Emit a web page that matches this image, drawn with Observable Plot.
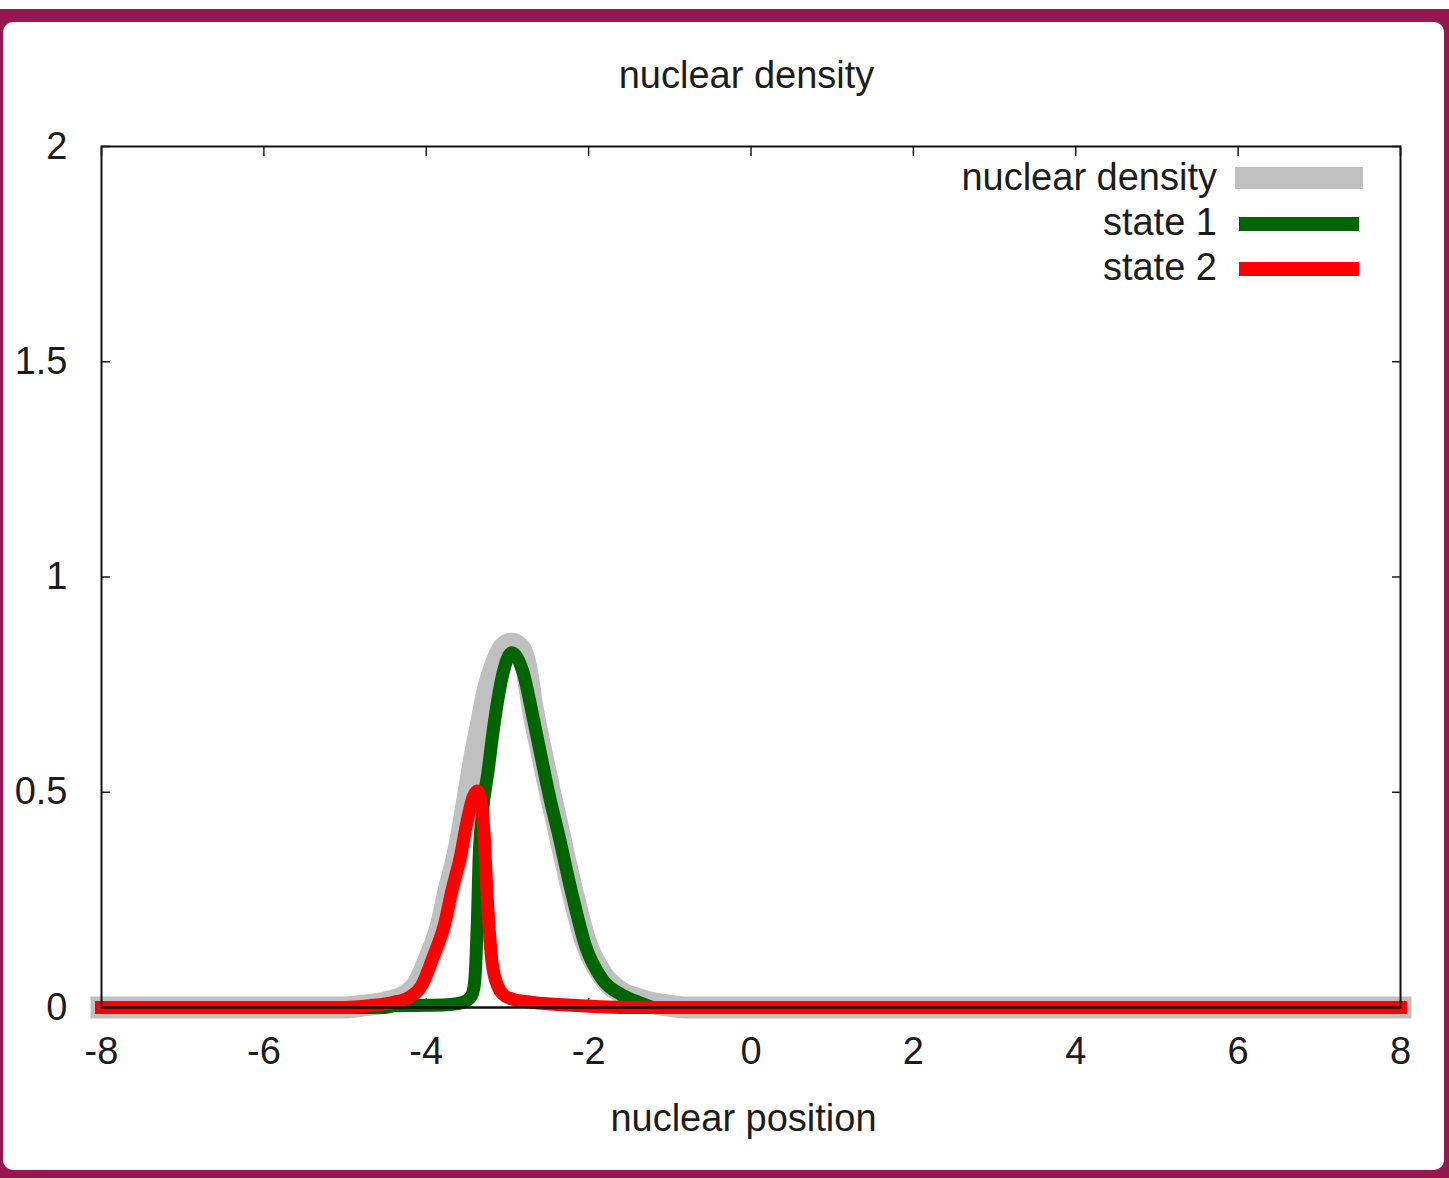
<!DOCTYPE html>
<html><head><meta charset="utf-8">
<script src="https://cdn.jsdelivr.net/npm/d3@7"></script>
<script src="https://cdn.jsdelivr.net/npm/@observablehq/plot@0.6"></script>
<style>
html,body{margin:0;padding:0;background:#fff;width:1449px;height:1178px;overflow:hidden;font-family:"Liberation Sans",Arial,sans-serif;}
#border{position:absolute;left:0;top:9px;width:1449px;height:1169px;background:#961650;}
#panel{position:absolute;left:3px;top:22px;width:1441px;height:1148px;background:#fff;border-radius:10px;}
#chart{position:absolute;left:0;top:0;}
.txt{position:absolute;font-size:38px;line-height:38px;color:#1c1c1c;white-space:nowrap;}
#title{left:0;width:1493px;text-align:center;top:56px;}
#xlabel{left:0;width:1487px;text-align:center;top:1099px;}
#legend{position:absolute;right:232px;top:155px;text-align:right;font-size:38px;line-height:45px;color:#1c1c1c;white-space:nowrap;}
.sw{position:absolute;}
</style></head>
<body>
<div id="border"></div>
<div id="panel"></div>
<div id="chart"></div>
<div id="title" class="txt">nuclear density</div>
<div id="xlabel" class="txt">nuclear position</div>
<div id="legend"></div>
<script>
// ---- data ----
const xTicks = [-8, -6, -4, -2, 0, 2, 4, 6, 8];
const yTicks = [0, 0.5, 1, 1.5, 2];
const seriesNames = ["nuclear density", "state 1", "state 2"];
const seriesColors = ["#c0c0c0", "#006400", "#ff0000"];

const densityX = [-8, -5.0, -4.8, -4.5, -4.28, -4.12, -3.95, -3.82, -3.72, -3.62, -3.54, -3.47, -3.40, -3.32, -3.24, -3.14, -3.05, -2.95, -2.85, -2.78, -2.68, -2.56, -2.47, -2.38, -2.20, -2.04, -1.83, -1.6, -1.4, -1.2, -1.0, -0.8, 8];
const densityY = [0, 0, 0.004, 0.012, 0.025, 0.05, 0.12, 0.19, 0.275, 0.35, 0.43, 0.51, 0.587, 0.664, 0.74, 0.80, 0.835, 0.845, 0.835, 0.80, 0.685, 0.575, 0.495, 0.42, 0.27, 0.155, 0.075, 0.035, 0.02, 0.01, 0.004, 0, 0];

const state1X = [-8, -4.5, -4.4, -4.0, -3.7, -3.55, -3.45, -3.41, -3.39, -3.37, -3.35, -3.31, -3.24, -3.16, -3.05, -2.95, -2.81, -2.68, -2.56, -2.47, -2.38, -2.20, -2.04, -1.83, -1.6, -1.44, -1.3, -1.19, 8];
const state1Y = [0, 0, 0.004, 0.005, 0.007, 0.012, 0.025, 0.05, 0.1, 0.2, 0.34, 0.45, 0.547, 0.664, 0.78, 0.824, 0.78, 0.67, 0.56, 0.48, 0.41, 0.26, 0.144, 0.065, 0.03, 0.016, 0.006, 0, 0];

const state2X = [-8, -5.0, -4.7, -4.4, -4.2, -4.06, -3.91, -3.78, -3.68, -3.58, -3.50, -3.42, -3.37, -3.32, -3.29, -3.25, -3.19, -3.12, -3.05, -2.95, -2.7, -2.46, -2.1, -1.85, -1.5, 8];
const state2Y = [0, 0, 0.004, 0.012, 0.025, 0.05, 0.12, 0.19, 0.275, 0.35, 0.43, 0.49, 0.503, 0.47, 0.41, 0.26, 0.105, 0.05, 0.03, 0.02, 0.012, 0.008, 0.004, 0.002, 0, 0];

const rows = (xs, ys) => xs.map((x, i) => ({x, y: ys[i]}));
const density = rows(densityX, densityY);
const state1 = rows(state1X, state1Y);
const state2 = rows(state2X, state2Y);

const lineOpts = (color, w) => ({x: "x", y: "y", stroke: color, strokeWidth: w, strokeLinecap: "square", curve: "monotone-x"});

const chart = Plot.plot({
  width: 1449, height: 1178,
  marginLeft: 101, marginRight: 49, marginTop: 146, marginBottom: 171,
  style: {background: "transparent", fontFamily: "'Liberation Sans', Arial, sans-serif", fontSize: "38px", color: "#1c1c1c", overflow: "visible"},
  x: {domain: [-8, 8]},
  y: {domain: [0, 2]},
  marks: [
    Plot.axisX(xTicks, {anchor: "bottom", tickSize: -9, tickPadding: 39, tickFormat: d => String(d), label: null, strokeWidth: 1.5}),
    Plot.axisX(xTicks, {anchor: "top", tickSize: -9, tickFormat: () => "", label: null, strokeWidth: 1.5}),
    Plot.axisY(yTicks, {anchor: "left", tickSize: -9, tickPadding: 43, tickFormat: d => String(d), label: null, strokeWidth: 1.5}),
    Plot.axisY(yTicks, {anchor: "right", tickSize: -9, tickFormat: () => "", label: null, strokeWidth: 1.5}),
    Plot.line(density, lineOpts(seriesColors[0], 22)),
    Plot.line(state1, lineOpts(seriesColors[1], 13)),
    Plot.line(state2, lineOpts(seriesColors[2], 13)),
    Plot.ruleY([0], {stroke: "#000", strokeWidth: 2}),
    Plot.frame({stroke: "#111", strokeWidth: 2})
  ]
});
document.getElementById("chart").appendChild(chart);

// legend
const legend = document.getElementById("legend");
legend.innerHTML = seriesNames.map(n => `<div>${n}</div>`).join("");
const swatches = [
  {left: 1235, top: 167, w: 128, h: 22},
  {left: 1239, top: 217, w: 120, h: 14},
  {left: 1239, top: 262, w: 120, h: 14}
];
swatches.forEach((s, i) => {
  const d = document.createElement("div");
  d.className = "sw";
  Object.assign(d.style, {left: s.left + "px", top: s.top + "px", width: s.w + "px", height: s.h + "px", background: seriesColors[i]});
  document.body.appendChild(d);
});
</script>
</body></html>
